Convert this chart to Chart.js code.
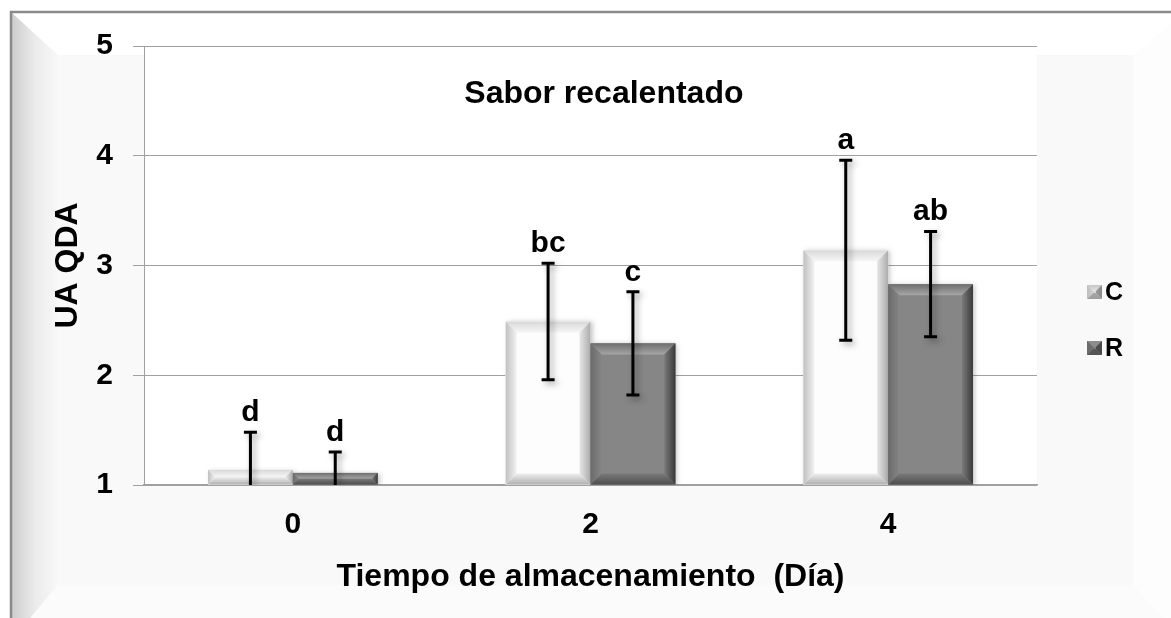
<!DOCTYPE html>
<html>
<head>
<meta charset="utf-8">
<script src="https://cdn.jsdelivr.net/npm/chart.js@4.4.1/dist/chart.umd.min.js"></script>
<style>
  html, body { margin: 0; padding: 0; background: #ffffff; }
  #wrap { width: 1171px; height: 618px; position: relative; }
</style>
</head>
<body>
<div id="wrap"><canvas id="c" width="1171" height="618"></canvas></div>
<script>
// ---- data ----
const categories = ['0', '2', '4'];
const seriesNames = ['C', 'R'];
const seriesC = [1.14, 2.49, 3.14];
const seriesR = [1.11, 2.29, 2.83];
const errC = [0.34, 0.53, 0.82];
const errR = [0.19, 0.47, 0.48];
const lettersC = ['d', 'bc', 'a'];
const lettersR = ['d', 'c', 'ab'];
const yMin = 1, yMax = 5, yStep = 1;
const chartTitle = 'Sabor recalentado';
const yTitle = 'UA QDA';
const xTitle = 'Tiempo de almacenamiento  (Día)';

const FONT = '"Liberation Sans", Arial, sans-serif';

const styles = [
  { fill: '#fdfdfd', top: ['#d8d8d8', '#f6f6f6'], left: ['#c0c0c0', '#f2f2f2'], right: ['#e6e6e6', '#acacac'], bottom: ['#eeeeee', '#b0b0b0'] },
  { fill: '#868686', top: ['#6e6e6e', '#a6a6a6'], left: ['#6a6a6a', '#858585'], right: ['#7a7a7a', '#3a3a3a'], bottom: ['#7a7a7a', '#4e4e4e'] }
];

function poly(ctx, pts, fill) {
  ctx.beginPath();
  ctx.moveTo(pts[0][0], pts[0][1]);
  for (let i = 1; i < pts.length; i++) ctx.lineTo(pts[i][0], pts[i][1]);
  ctx.closePath();
  ctx.fillStyle = fill;
  ctx.fill();
}

function bevelRect(ctx, x1, y1, x2, y2, st, bv) {
  const b = Math.min(bv, (x2 - x1) / 2, (y2 - y1) / 2);
  ctx.fillStyle = st.fill;
  ctx.fillRect(x1, y1, x2 - x1, y2 - y1);
  let g;
  g = ctx.createLinearGradient(0, y1, 0, y1 + b);
  g.addColorStop(0, st.top[0]); g.addColorStop(1, st.top[1]);
  poly(ctx, [[x1, y1], [x2, y1], [x2 - b, y1 + b], [x1 + b, y1 + b]], g);
  g = ctx.createLinearGradient(0, y2 - b, 0, y2);
  g.addColorStop(0, st.bottom[0]); g.addColorStop(1, st.bottom[1]);
  poly(ctx, [[x1 + b, y2 - b], [x2 - b, y2 - b], [x2, y2], [x1, y2]], g);
  g = ctx.createLinearGradient(x1, 0, x1 + b, 0);
  g.addColorStop(0, st.left[0]); g.addColorStop(1, st.left[1]);
  poly(ctx, [[x1, y1], [x1 + b, y1 + b], [x1 + b, y2 - b], [x1, y2]], g);
  g = ctx.createLinearGradient(x2 - b, 0, x2, 0);
  g.addColorStop(0, st.right[0]); g.addColorStop(1, st.right[1]);
  poly(ctx, [[x2, y1], [x2, y2], [x2 - b, y2 - b], [x2 - b, y1 + b]], g);
}

const framePlugin = {
  id: 'frame',
  beforeDraw(chart) {
    const ctx = chart.ctx;
    const W = chart.width, H = chart.height;
    ctx.save();
    ctx.fillStyle = '#ffffff';
    ctx.fillRect(0, 0, W, H);
    const ox1 = 12, oy1 = 13, ox2 = 1185, oy2 = 640;
    const ix1 = 58, iy1 = 55, ix2 = 1133, iy2 = 585;
    ctx.fillStyle = '#f9f9f9';
    ctx.fillRect(ix1, iy1, ix2 - ix1, iy2 - iy1);
    poly(ctx, [[ox1, oy1], [ox2, oy1], [ix2, iy1], [ix1, iy1]], '#ffffff');
    let g = ctx.createLinearGradient(ox1, 0, ix1, 0);
    g.addColorStop(0, '#cdcdcd'); g.addColorStop(0.5, '#ebebeb'); g.addColorStop(1, '#f8f8f8');
    poly(ctx, [[ox1, oy1], [ix1, iy1], [ix1, iy2], [ox1, oy2]], g);
    poly(ctx, [[ox2, oy1], [ox2, oy2], [ix2, iy2], [ix2, iy1]], '#fdfdfd');
    poly(ctx, [[ix1, iy2], [ix2, iy2], [ox2, oy2], [ox1, oy2]], '#fbfbfb');
    // outer border
    ctx.strokeStyle = '#8a8a8a';
    ctx.lineWidth = 2.5;
    ctx.beginPath();
    ctx.moveTo(11, H + 2);
    ctx.lineTo(11, 12);
    ctx.lineTo(W + 2, 12);
    ctx.stroke();
    // plot background
    const ca = chart.chartArea;
    ctx.fillStyle = '#ffffff';
    ctx.fillRect(ca.left, ca.top, ca.right - ca.left, ca.bottom - ca.top);
    ctx.restore();
  }
};

const decoPlugin = {
  id: 'deco',
  afterDatasetsDraw(chart) {
    const ctx = chart.ctx;
    const ys = chart.scales.y;
    const ca = chart.chartArea;
    const errs = [errC, errR];
    const vals = [seriesC, seriesR];
    const letters = [lettersC, lettersR];
    ctx.save();
    ctx.beginPath();
    ctx.rect(ca.left, ca.top - 100, ca.right - ca.left, ca.bottom - ca.top + 100);
    ctx.clip();
    // bevelled bars
    chart.data.datasets.forEach((ds, di) => {
      const meta = chart.getDatasetMeta(di);
      meta.data.forEach((bar) => {
        const p = bar.getProps(['x', 'y', 'base', 'width'], true);
        const x1 = p.x - p.width / 2, x2 = p.x + p.width / 2;
        const y1 = Math.min(p.y, p.base), y2 = Math.min(Math.max(p.y, p.base), ca.bottom);
        ctx.save();
        ctx.shadowColor = 'rgba(0,0,0,0.25)';
        ctx.shadowBlur = 5;
        ctx.shadowOffsetX = 2;
        ctx.shadowOffsetY = 1;
        ctx.fillStyle = styles[di].fill;
        ctx.fillRect(x1, y1, x2 - x1, y2 - y1);
        ctx.restore();
        bevelRect(ctx, x1, y1, x2, y2, styles[di], 11);
      });
    });
    // error bars and letters
    chart.data.datasets.forEach((ds, di) => {
      const meta = chart.getDatasetMeta(di);
      meta.data.forEach((bar, i) => {
        const x = bar.x;
        const v = vals[di][i], e = errs[di][i];
        const yt = ys.getPixelForValue(v + e);
        const yb = Math.min(ys.getPixelForValue(v - e), ca.bottom);
        const cap = 6.5;
        ctx.save();
        ctx.shadowColor = 'rgba(0,0,0,0.35)';
        ctx.shadowBlur = 6;
        ctx.shadowOffsetX = 3;
        ctx.shadowOffsetY = 3;
        ctx.strokeStyle = '#000000';
        ctx.lineWidth = 3;
        ctx.beginPath();
        ctx.moveTo(x, yt); ctx.lineTo(x, yb);
        ctx.moveTo(x - cap, yt); ctx.lineTo(x + cap, yt);
        if (ys.getPixelForValue(v - e) < ca.bottom) {
          ctx.moveTo(x - cap, yb); ctx.lineTo(x + cap, yb);
        }
        ctx.stroke();
        ctx.restore();
        ctx.fillStyle = '#000000';
        ctx.font = 'bold 30px ' + FONT;
        ctx.textAlign = 'center';
        ctx.textBaseline = 'alphabetic';
        ctx.fillText(letters[di][i], x, yt - 11);
      });
    });
    ctx.restore();

    // chart title inside plot
    ctx.save();
    ctx.fillStyle = '#000000';
    ctx.font = 'bold 32px ' + FONT;
    ctx.textAlign = 'center';
    ctx.textBaseline = 'alphabetic';
    ctx.fillText(chartTitle, ca.left + (ca.right - ca.left) * 0.515, ca.top + 57);
    ctx.restore();

    // legend
    ctx.save();
    const lx = ca.right + 50;
    const legY = [ca.top + 246, ca.top + 302];
    const legStyles = [
      { fill: '#d6d6d6', top: ['#c6c6c6', '#e2e2e2'], left: ['#bdbdbd', '#d0d0d0'], right: ['#9a9a9a', '#8a8a8a'], bottom: ['#a8a8a8', '#9c9c9c'] },
      { fill: '#7a7a7a', top: ['#8c8c8c', '#8c8c8c'], left: ['#6c6c6c', '#6c6c6c'], right: ['#4a4a4a', '#4a4a4a'], bottom: ['#555555', '#555555'] }
    ];
    seriesNames.forEach((name, i) => {
      const cy = legY[i];
      bevelRect(ctx, lx, cy - 7, lx + 15, cy + 7, legStyles[i], 6);
      ctx.fillStyle = '#000000';
      ctx.font = 'bold 25px ' + FONT;
      ctx.textAlign = 'left';
      ctx.textBaseline = 'middle';
      ctx.fillText(name, lx + 18, cy + 1);
    });
    ctx.restore();
  }
};

const ctx = document.getElementById('c').getContext('2d');
new Chart(ctx, {
  type: 'bar',
  data: {
    labels: categories,
    datasets: [
      { label: seriesNames[0], data: seriesC, backgroundColor: styles[0].fill, borderWidth: 0, base: yMin, categoryPercentage: 0.57, barPercentage: 1.0 },
      { label: seriesNames[1], data: seriesR, backgroundColor: styles[1].fill, borderWidth: 0, base: yMin, categoryPercentage: 0.57, barPercentage: 1.0 }
    ]
  },
  options: {
    responsive: false,
    animation: false,
    devicePixelRatio: 1,
    layout: { padding: { left: 49, right: 134, top: 46, bottom: 0 } },
    plugins: {
      legend: { display: false },
      title: { display: false },
      tooltip: { enabled: false }
    },
    scales: {
      x: {
        grid: { display: false, drawTicks: false },
        border: { display: true, color: '#a0a0a0', width: 1.5 },
        ticks: { color: '#000000', font: { family: FONT, size: 30, weight: 'bold' }, padding: 22 },
        title: { display: true, text: xTitle, color: '#000000', font: { family: FONT, size: 32, weight: 'bold' }, padding: { top: 0, bottom: 22 } },
        afterFit(scale) { scale.height = 133; }
      },
      y: {
        min: yMin,
        max: yMax,
        grid: { color: '#a0a0a0', lineWidth: 1, tickLength: 11, tickColor: '#a0a0a0' },
        border: { display: true, color: '#a0a0a0', width: 1 },
        ticks: { stepSize: yStep, color: '#000000', font: { family: FONT, size: 30, weight: 'bold' }, padding: 20 },
        title: { display: true, text: yTitle, color: '#000000', font: { family: FONT, size: 32, weight: 'bold' }, padding: { top: 0, bottom: 9 } },
        afterFit(scale) { scale.width = 95; }
      }
    }
  },
  plugins: [framePlugin, decoPlugin]
});
</script>
</body>
</html>
